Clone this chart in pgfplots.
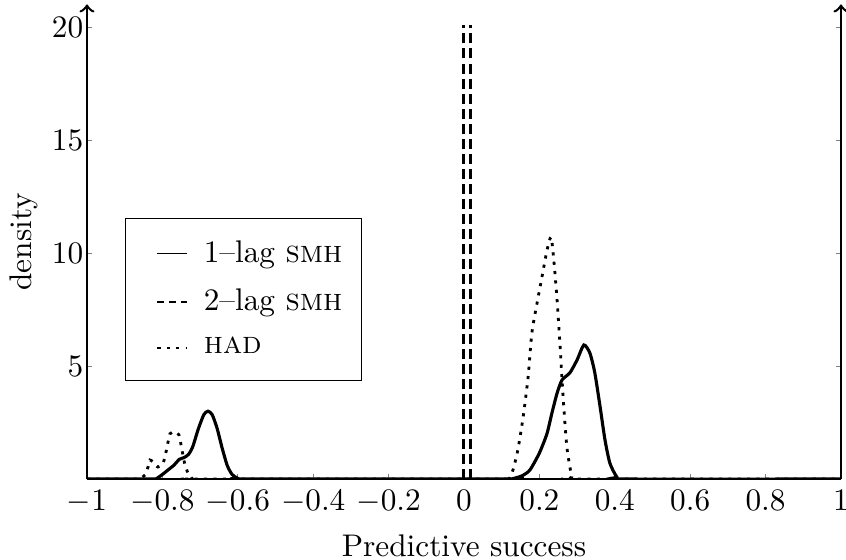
\documentclass[border=0pt]{standalone}
\usepackage{pgfplots}
\pgfplotsset{compat=1.18}
\begin{document}
\begin{tikzpicture}
\begin{axis}[
  name=ax,
  scale only axis, width=241pt, height=151.7pt,
  xmin=-1, xmax=1, ymin=0, ymax=21,
  axis x line=bottom, axis y line=box,
  x axis line style={-}, y axis line style={-to},
  every axis plot/.append style={line width=1pt},
  axis line style={line width=0.8pt},
  tick align=inside, major tick length=1.5pt,
  xtick={-1,-0.8,-0.6,-0.4,-0.2,0,0.2,0.4,0.6,0.8,1},
  ytick={5,10,15,20},
  yticklabel style={inner xsep=1pt},
  xlabel={Predictive success}, ylabel={density},
  unbounded coords=jump,
  legend style={at={(axis cs:-0.9,11.55)}, anchor=north west, draw=black, line width=0.4pt,
    row sep=3pt, inner xsep=10pt, inner ysep=5pt,
    /tikz/every odd column/.append style={column sep=3pt}},
  legend cell align=left,
  legend image code/.code={\draw[#1, line width=0.5pt] (0pt,0pt) -- (9.6pt,0pt);},
]
\addplot[black, smooth, tension=0.4] coordinates {
(-1,0) (-0.83,0) (-0.815,0.03) (-0.80,0.2) (-0.785,0.4) (-0.77,0.6) (-0.755,0.87) (-0.742,0.95) (-0.73,1.1) (-0.719,1.45) (-0.705,2.2) (-0.69,2.85) (-0.679,3.0) (-0.668,2.85) (-0.655,2.25) (-0.642,1.4) (-0.628,0.6) (-0.615,0.2) (-0.6,0.03) (-0.58,0)
(0.12,0) (0.135,0.04) (0.155,0.15) (0.175,0.4) (0.2,1.15) (0.22,2.0) (0.233,2.9) (0.247,3.8) (0.26,4.38) (0.281,4.7) (0.3,5.27) (0.318,5.93) (0.334,5.57) (0.347,4.7) (0.361,3.2) (0.374,1.73) (0.387,0.7) (0.405,0.1) (0.42,0) (1,0)
};
\addlegendentry{1--lag \textsc{smh}\kern-6pt}
\addplot[black, dash pattern=on 3.2pt off 1.6pt,
  legend image code/.code={\draw[black, line width=0.5pt, dash pattern=on 2.2pt off 1.5pt] (0pt,0pt) -- (9.6pt,0pt);}] coordinates {
(-0.001,0) (-0.001,20.1) (0.008,nan) (0.017,0) (0.017,20.1)
};
\addlegendentry{2--lag \textsc{smh}\kern-6pt}
\addplot[black, dotted, line width=0.9pt, smooth, tension=0.4] coordinates {
(-1,0) (-0.87,0) (-0.859,0.02) (-0.846,0.18) (-0.838,0.53) (-0.833,0.84) (-0.825,0.75) (-0.812,0.53) (-0.798,0.7) (-0.788,1.37) (-0.78,2.0) (-0.767,2.08) (-0.756,1.95) (-0.748,1.28) (-0.740,0.62) (-0.732,0.27) (-0.721,0.02) (-0.71,0)
(0.11,0) (0.12,0.02) (0.13,0.4) (0.143,1.3) (0.157,2.75) (0.17,4.5) (0.18,6.46) (0.194,7.8) (0.207,8.95) (0.22,10.1) (0.231,10.7) (0.239,9.55) (0.247,7.9) (0.255,5.85) (0.263,3.6) (0.273,1.4) (0.286,0.1) (0.295,0) (1,0)
};
\addlegendentry{\textsc{had}\kern-6pt}
\end{axis}
\pgfresetboundingbox
\path[use as bounding box] ([xshift=-27.8pt,yshift=-25.6pt]ax.south west) rectangle ([xshift=1.6pt,yshift=1.4pt]ax.north east);
\end{tikzpicture}
\end{document}
